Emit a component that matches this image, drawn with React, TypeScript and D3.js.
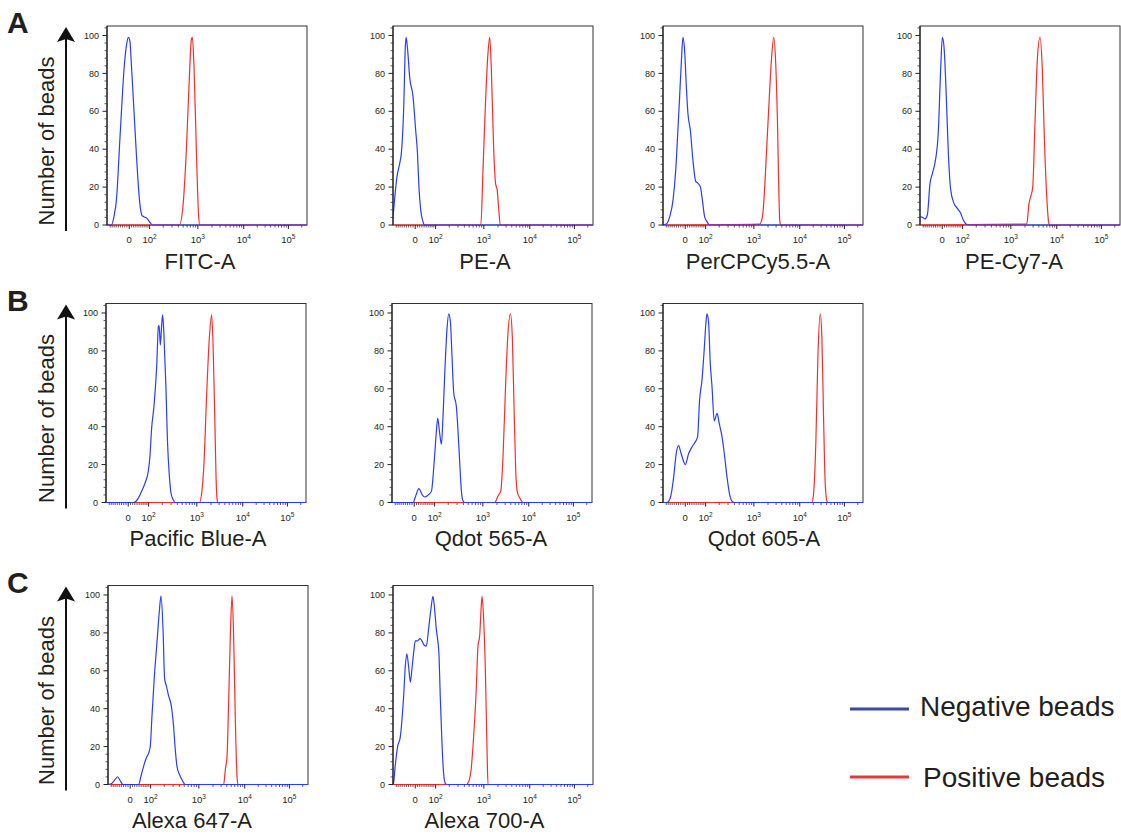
import React, { useMemo } from "react";
import * as d3 from "d3";

type Pt = [number, number];

// Logicle (biexponential) display parameters
const T_TOP = 262144;
const M_DEC = 4.5;
const W_LIN = 0.5;

// Histograms: [fluorescence intensity, % of mode]
const fitcNeg: Pt[] = [[-84, 0], [-70, 5], [-59, 13], [-41, 48], [-22, 84], [-12, 95], [-4, 99], [3, 97], [10, 84], [21, 61], [32, 38], [47, 13], [59, 5], [68, 4.4], [85, 3.5], [105, 1], [117, 0]];
const fitcPos: Pt[] = [[420, 0], [495, 10], [580, 40], [660, 75], [735, 98], [770, 99], [830, 84], [930, 40], [1030, 6], [1100, 0]];

const peNeg: Pt[] = [[-108, 3.5], [-86, 25.5], [-72, 32.6], [-64, 37.9], [-52, 64], [-45, 94], [-41, 99], [-33, 90.7], [-25, 78], [-10, 68], [2, 50], [10, 38], [16.6, 20], [24.6, 8], [35, 1.8], [43, 0]];
const pePos: Pt[] = [[865, 0], [959, 29], [1080, 64], [1222, 90.7], [1330, 99], [1440, 82], [1610, 41], [1770, 22], [1920, 18.5], [2080, 8], [2240, 0]];

const percpNeg: Pt[] = [[-90, 0.5], [-72, 4.4], [-56, 13], [-43, 29], [-33, 50], [-25, 68], [-17, 87], [-10, 99], [-2, 90.7], [5, 73], [12, 59], [23, 50], [35, 34], [48, 23], [59, 22], [71.5, 20], [82, 13], [94, 4.4], [108, 1.8], [125, 0]];
const percpPos: Pt[] = [[1330, 0.5], [1520, 4.4], [1700, 20], [1850, 38], [2100, 64], [2370, 87], [2663, 99], [2944, 85], [3210, 55], [3400, 24], [3600, 2.6], [3785, 0]];

const pecy7Neg: Pt[] = [[-108, 4.4], [-94, 4], [-81, 3.2], [-69, 5.3], [-56, 22], [-45, 27], [-33, 32.6], [-18, 48], [-7, 82], [0.5, 99], [8, 94], [16.6, 73], [27.5, 38], [38.5, 18.5], [54, 11.4], [71, 8.8], [89, 6.2], [104, 2.6], [121, 0.5], [136, 0]];
const pecy7Pos: Pt[] = [[2180, 0.5], [2445, 11.4], [2663, 15], [2944, 20], [3310, 55], [3710, 87], [4255, 99], [4785, 82], [5300, 46], [5990, 15], [6500, 2.6], [6830, 0]];

const pacBlueNeg: Pt[] = [[26, 0], [46, 2.3], [62, 5.9], [80, 10.3], [98, 16.5], [108, 24.5], [118, 38.7], [134, 51], [154, 72.5], [167, 93], [173, 93.4], [183, 83], [195, 93.8], [204, 99], [218, 86.7], [238, 60], [254, 33.4], [278, 13.9], [299, 5], [332, 1.4], [359, 0]];
const pacBluePos: Pt[] = [[1130, 0], [1265, 5], [1415, 21], [1610, 56.5], [1840, 86.7], [2072, 99], [2245, 78], [2445, 38.7], [2570, 13.9], [2720, 1.4], [2820, 0]];

const qdot565Neg: Pt[] = [[-5, 0], [6.5, 3.4], [21, 7.3], [37, 3.9], [48, 2.9], [64, 3.9], [82, 6], [96.5, 20.3], [111, 38], [119, 44.4], [132, 36.4], [144, 30.7], [156, 45.3], [170, 68.4], [189, 91.6], [205, 99.5], [222, 95], [238, 77.4], [258, 57.8], [291, 50.6], [313, 38], [340, 20.3], [366, 6], [391, 1], [426, 0]];
const qdot565Pos: Pt[] = [[1786, 0], [2100, 3.4], [2410, 6], [2700, 24], [3050, 59.5], [3480, 90], [3925, 99.5], [4340, 86], [4710, 50.6], [5140, 16.8], [5600, 5.2], [6290, 2.5], [7450, 0]];

const qdot605Neg: Pt[] = [[-86, 0], [-69, 2.5], [-53, 13.2], [-41, 25.7], [-30, 30], [-18, 25.7], [0.5, 20], [15, 25.7], [30, 29.2], [46, 32], [57, 34.6], [67, 54], [80, 65], [92, 81], [102, 95], [108, 99.5], [118, 95], [129, 73.8], [141, 61.3], [158, 43], [181, 47], [200, 41.7], [228, 34.6], [253, 25.7], [287, 13.2], [322, 4.3], [359, 0.7], [398, 0]];
const qdot605Pos: Pt[] = [[18660, 0], [20280, 4.3], [22960, 32.8], [25480, 77.4], [28680, 99.5], [31330, 86.3], [34050, 45.3], [37170, 9.6], [40610, 0.7], [42760, 0]];

const alexa647Neg: Pt[] = [[-108, 0], [-86, 0.7], [-69, 2.8], [-58, 4.1], [-46, 2.1], [-33, 0], [38, 0], [49, 4.3], [62, 9.6], [76, 14], [89, 16.7], [98, 20.2], [108, 36], [122, 55.7], [141, 75], [158, 91], [172, 99.6], [189, 82], [204, 55.7], [221, 52], [245, 46.8], [277, 41.5], [307, 30.9], [332, 18.4], [359, 9.6], [404, 5.1], [452, 2.5], [525, 0]];
const alexa647Pos: Pt[] = [[3410, 0], [3710, 7.8], [4046, 14.9], [4386, 43], [4785, 78.7], [5215, 99.6], [5657, 78.7], [6168, 34.4], [6727, 4.3], [7080, 0]];

const alexa700Neg: Pt[] = [[-105, 0.5], [-96, 9.4], [-83, 20], [-69, 25.3], [-61, 34.2], [-53, 46.5], [-45, 62.5], [-38, 69], [-30, 62.5], [-22, 54], [-15, 60.7], [-7, 69.6], [0.5, 75.8], [10, 75.8], [22, 77], [30, 75.8], [41, 73.5], [51, 73], [62, 82], [74, 92.6], [85, 99.3], [94, 92.6], [104, 82], [112, 76.6], [121, 67.8], [129, 46.5], [141, 21.8], [153, 5.8], [167, 0.5], [181, 0]];
const alexa700Pos: Pt[] = [[438, 0], [487, 1.4], [545, 7.6], [615, 25.3], [690, 48.3], [755, 73], [818, 78.4], [875, 92.6], [917, 99.3], [990, 87.3], [1075, 60.7], [1170, 16.5], [1222, 0]];

const channels = [
  { row: 0, col: 0, label: "FITC-A", neg: fitcNeg, pos: fitcPos },
  { row: 0, col: 1, label: "PE-A", neg: peNeg, pos: pePos },
  { row: 0, col: 2, label: "PerCPCy5.5-A", neg: percpNeg, pos: percpPos },
  { row: 0, col: 3, label: "PE-Cy7-A", neg: pecy7Neg, pos: pecy7Pos },
  { row: 1, col: 0, label: "Pacific Blue-A", neg: pacBlueNeg, pos: pacBluePos },
  { row: 1, col: 1, label: "Qdot 565-A", neg: qdot565Neg, pos: qdot565Pos },
  { row: 1, col: 2, label: "Qdot 605-A", neg: qdot605Neg, pos: qdot605Pos },
  { row: 2, col: 0, label: "Alexa 647-A", neg: alexa647Neg, pos: alexa647Pos },
  { row: 2, col: 1, label: "Alexa 700-A", neg: alexa700Neg, pos: alexa700Pos },
];

const rowLetters = ["A", "B", "C"];
const yTickValues = [0, 20, 40, 60, 80, 100];
const xMajorExponents = [2, 3, 4, 5];
const legendItems = [
  { label: "Negative beads", color: "#3a49a8" },
  { label: "Positive beads", color: "#e8383d" },
];

// Layout
const PW = 200;
const PH = 199;
const rowTops = [26, 303.5, 585.5];
const rowColLefts = [
  [107, 393, 663, 920],
  [106, 392, 663],
  [108, 393],
];
// horizontal shift of each channel title from its plot centre
const titleShifts = [-7, -8, -5, -6, -8, -1, 1, -16, -8.5];
const FONT = "'Liberation Sans', Arial, Helvetica, sans-serif";
const TEXT = "#231f20";
const NEG_COLOR = "#2a3cff";
const POS_COLOR = "#ff2b2b";

function makeLogicle(T: number, M: number, W: number) {
  const w = W * Math.LN10;
  let lo = 1.000001;
  let hi = 100;
  for (let i = 0; i < 100; i++) {
    const mid = (lo + hi) / 2;
    const g = (2 * mid * Math.log(mid)) / (mid + 1);
    if (g < w) lo = mid;
    else hi = mid;
  }
  const p = (lo + hi) / 2;
  const A = T * Math.pow(10, -(M - W));
  const S = (f: number) => {
    const u = f * M - W;
    return A * (Math.pow(10, u) - p * p * Math.pow(10, -u / p) + p * p - 1);
  };
  const inv = (v: number) => {
    let a = -0.5;
    let b = 1.5;
    for (let i = 0; i < 60; i++) {
      const m = (a + b) / 2;
      if (S(m) < v) a = m;
      else b = m;
    }
    return (a + b) / 2;
  };
  return { S, inv };
}

export default function App() {
  const logicle = useMemo(() => makeLogicle(T_TOP, M_DEC, W_LIN), []);
  const fx = d3.scaleLinear().domain([0, 1]).range([0, PW]);
  const x = (v: number) => fx(logicle.inv(v));
  const y = d3.scaleLinear().domain([0, 105]).range([PH, 0]);
  const vMin = logicle.S(0);
  const vMax = logicle.S(1);

  const line = d3
    .line<Pt>()
    .x((d) => x(d[0]))
    .y((d) => y(d[1]))
    .curve(d3.curveMonotoneX);

  const extend = (pts: Pt[]): Pt[] => {
    const out = pts.slice();
    if (out[0][0] > vMin) out.unshift([vMin, 0]);
    if (out[out.length - 1][0] < vMax) out.push([vMax, 0]);
    return out;
  };

  // minor ticks on the logicle axis
  const minorX: number[] = [];
  for (let k = 1; k <= 5; k++) {
    for (let m = 1; m <= 9; m++) {
      const v = m * Math.pow(10, k);
      if (m === 1 && k >= 2) continue;
      if (v < vMax) minorX.push(v);
      if (-v > vMin) minorX.push(-v);
    }
  }
  const minorY: number[] = d3.range(0, 105, 4).filter((v) => v % 20 !== 0);

  return (
    <svg
      width={1121}
      height={835}
      style={{ position: "absolute", left: 0, top: 0, background: "#fff" }}
      fontFamily={FONT}
    >
      <defs>
        <clipPath id="plot-clip">
          <rect x={0} y={-1} width={PW} height={PH + 2} />
        </clipPath>
      </defs>

      {rowLetters.map((letter, r) => {
        const top = rowTops[r];
        const bottom = top + PH;
        const tip = top + 1;
        const ax = 66;
        return (
          <g key={letter}>
            <text x={7} y={top + 7} fontSize={30} fontWeight="bold" fill={TEXT}>
              {letter}
            </text>
            <line x1={ax} x2={ax} y1={bottom + 6} y2={tip + 10} stroke="#111" strokeWidth={2} />
            <path
              d={`M${ax},${tip} L${ax - 9},${tip + 15} L${ax},${tip + 12} L${ax + 9},${tip + 15} Z`}
              fill="#111"
            />
            <text
              transform={`translate(54,${bottom - 84}) rotate(-90)`}
              textAnchor="middle"
              fontSize={22}
              fill={TEXT}
            >
              Number of beads
            </text>
          </g>
        );
      })}

      {channels.map((ch, i) => {
        const left = rowColLefts[ch.row][ch.col];
        const top = rowTops[ch.row];
        return (
          <g key={ch.label} transform={`translate(${left},${top})`}>
            <rect x={0} y={0} width={PW} height={PH} fill="none" stroke="#333" strokeWidth={1} />
            <g clipPath="url(#plot-clip)">
              <path d={line(extend(ch.pos)) || ""} fill="none" stroke={POS_COLOR} strokeWidth={1.2} />
              <path d={line(extend(ch.neg)) || ""} fill="none" stroke={NEG_COLOR} strokeWidth={1.2} />
            </g>

            {/* y axis */}
            <line x1={0} x2={0} y1={0} y2={PH} stroke="#111" strokeWidth={1} />
            {minorY.map((v) => (
              <line key={`ym${v}`} x1={-2.5} x2={0} y1={y(v)} y2={y(v)} stroke="#333" strokeWidth={0.8} />
            ))}
            {yTickValues.map((v) => (
              <g key={`y${v}`}>
                <line x1={-4.5} x2={0} y1={y(v)} y2={y(v)} stroke="#222" strokeWidth={1} />
                <text x={-8} y={y(v)} dy="0.35em" textAnchor="end" fontSize={9} fill={TEXT}>
                  {v}
                </text>
              </g>
            ))}

            {/* x axis */}
            {minorX.map((v) => (
              <line key={`xm${v}`} x1={x(v)} x2={x(v)} y1={PH} y2={PH + 2.5} stroke="#333" strokeWidth={0.8} />
            ))}
            <line x1={x(0)} x2={x(0)} y1={PH} y2={PH + 4} stroke="#222" strokeWidth={1} />
            <text x={x(0)} y={PH + 18} textAnchor="middle" fontSize={9.5} fill={TEXT}>
              0
            </text>
            {xMajorExponents.map((e) => {
              const px = x(Math.pow(10, e));
              return (
                <g key={`x${e}`}>
                  <line x1={px} x2={px} y1={PH} y2={PH + 4} stroke="#222" strokeWidth={1} />
                  <text x={px} y={PH + 18} textAnchor="middle" fontSize={9.5} fill={TEXT}>
                    10
                    <tspan fontSize={6.5} dy={-4}>
                      {e}
                    </tspan>
                  </text>
                </g>
              );
            })}

            <text x={PW / 2 + titleShifts[i]} y={PH + 43.5} textAnchor="middle" fontSize={22} fill={TEXT}>
              {ch.label}
            </text>
          </g>
        );
      })}

      {legendItems.map((item, i) => {
        const ly = 709 + i * 68;
        return (
          <g key={item.label}>
            <line x1={850} x2={909} y1={ly} y2={ly} stroke={item.color} strokeWidth={3} />
            <text x={920 + i * 3} y={ly + 7 + i * 3} fontSize={28} fill={TEXT}>
              {item.label}
            </text>
          </g>
        );
      })}
    </svg>
  );
}
